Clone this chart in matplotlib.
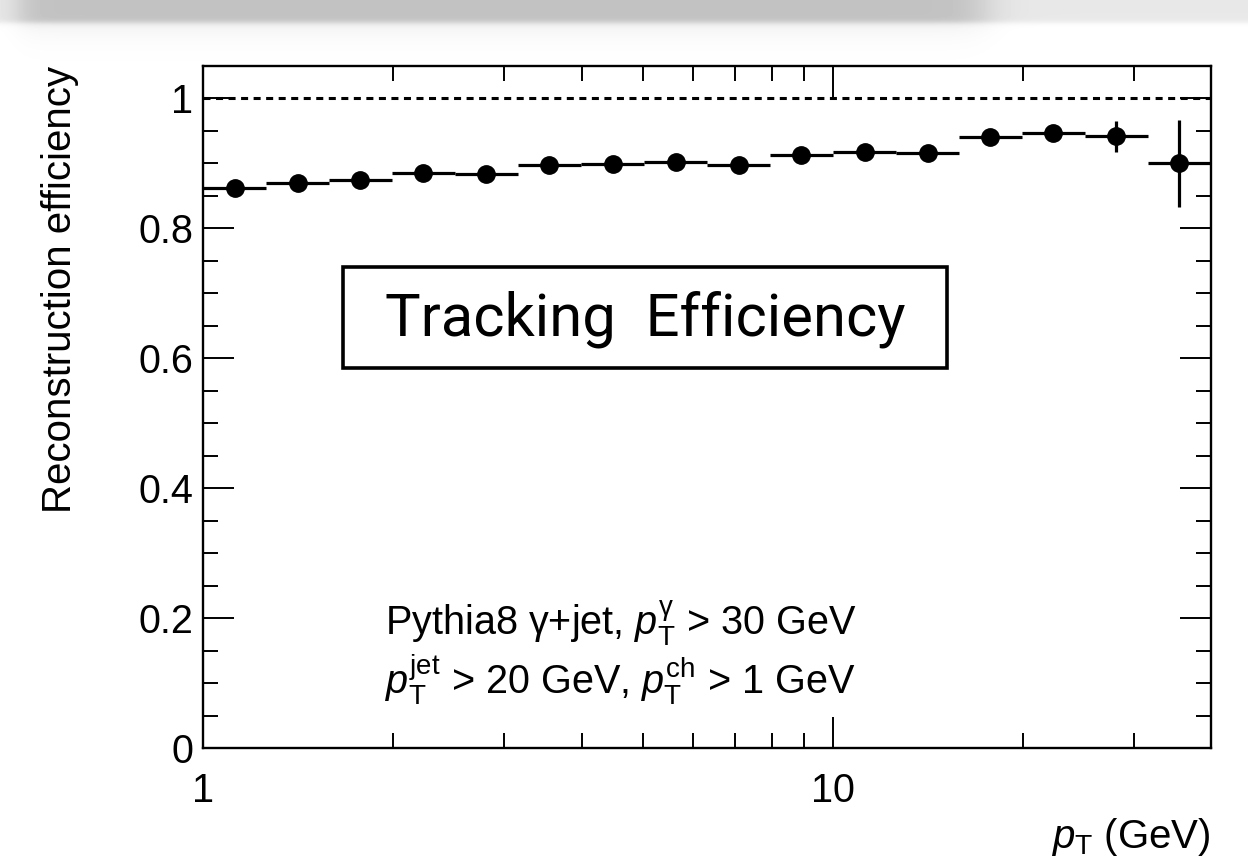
import numpy as np
import matplotlib
matplotlib.use("Agg")
import matplotlib.pyplot as plt
from matplotlib.patches import Rectangle
from matplotlib.ticker import FixedLocator, NullFormatter, FixedFormatter

plt.rcParams["font.family"] = ["Liberation Sans", "DejaVu Sans"]
plt.rcParams["mathtext.fontset"] = "custom"
plt.rcParams["mathtext.rm"] = "Liberation Sans"
plt.rcParams["mathtext.it"] = "Liberation Sans:italic"
plt.rcParams["mathtext.bf"] = "Liberation Sans:bold"

# track pT bins (GeV), 10 bins per decade
bin_edges = [1.0, 1.259, 1.585, 1.995, 2.512, 3.162, 3.981, 5.012, 6.310, 7.943,
             10.0, 12.59, 15.85, 19.95, 25.12, 31.62, 39.81]
efficiency = [0.862, 0.870, 0.875, 0.885, 0.884, 0.898, 0.899, 0.902, 0.898,
              0.913, 0.918, 0.916, 0.941, 0.947, 0.942, 0.900]
eff_err = [0.003, 0.003, 0.003, 0.003, 0.004, 0.004, 0.004, 0.005, 0.005,
           0.006, 0.007, 0.008, 0.010, 0.010, 0.024, 0.067]

y_major = [0, 0.2, 0.4, 0.6, 0.8, 1.0]
y_major_labels = ["0", "0.2", "0.4", "0.6", "0.8", "1"]
x_major = [1, 10]
x_minor = [2, 3, 4, 5, 6, 7, 8, 9, 20, 30]

edges = np.array(bin_edges)
lo, hi = edges[:-1], edges[1:]
centers = np.sqrt(lo * hi)
xerr = np.vstack([centers - lo, hi - centers])

fig = plt.figure(figsize=(12.48, 8.64), dpi=100)

# screenshot strip at the very top (window chrome shadow)
band = fig.add_axes([0, 1 - 70 / 864, 1, 70 / 864])
W, H = 1248, 70
xx, yy = np.meshgrid(np.arange(W), np.arange(H))
dark = 1 / (1 + np.exp((xx - 985) / 12.0))          # dark part ends near x~985
left = 1 / (1 + np.exp(-(xx - 18) / 8.0))            # soft left edge
top_band = 1 / (1 + np.exp((yy - 22) / 1.5))         # the grey bar itself
shadow = np.exp(-np.clip(yy - 22, 0, None) / 14.0) * (1 - top_band)
val = 1.0 - top_band * (0.09 + 0.15 * dark * left) - shadow * 0.06 * dark * left
band.imshow(val, cmap="gray", vmin=0, vmax=1, aspect="auto", interpolation="bilinear")
band.axis("off")

ax = fig.add_axes([203 / 1248, 1 - 748 / 864, 1008 / 1248, 682 / 864])
ax.set_zorder(2)
ax.set_xscale("log")
ax.set_xlim(bin_edges[0], bin_edges[-1])
ax.set_ylim(0, 1.05)

ax.axhline(1.0, color="black", lw=2.2, ls=(0, (2.3, 1.8)), zorder=1)

ax.errorbar(centers, efficiency, xerr=xerr, yerr=eff_err, fmt="o", color="black",
            ms=12.5, elinewidth=2.3, capsize=0, zorder=3)

ax.xaxis.set_major_locator(FixedLocator(x_major))
ax.xaxis.set_major_formatter(FixedFormatter(["1", "10"]))
ax.xaxis.set_minor_locator(FixedLocator(x_minor))
ax.xaxis.set_minor_formatter(NullFormatter())
ax.yaxis.set_major_locator(FixedLocator(y_major))
ax.yaxis.set_major_formatter(FixedFormatter(y_major_labels))
ax.yaxis.set_minor_locator(FixedLocator(np.arange(0.05, 1.05, 0.05)))

ax.tick_params(which="both", direction="in", top=True, right=True, width=1.4)
ax.tick_params(which="major", length=22)
ax.tick_params(which="minor", length=11)
ax.tick_params(axis="x", which="major", pad=17, labelsize=28.5)
ax.tick_params(axis="y", which="major", pad=7, labelsize=28.5)
for s in ax.spines.values():
    s.set_linewidth(1.7)

ax.text(-0.142, 1.0, "Reconstruction efficiency", transform=ax.transAxes,
        rotation=90, ha="center", va="top", fontsize=29)
ax.text(1.0, -0.147, r"$p_{\mathrm{T}}$ (GeV)", transform=ax.transAxes,
        ha="right", va="baseline", fontsize=29)

# boxed title
ax.add_patch(Rectangle((0.139, 0.557), 0.599, 0.148, transform=ax.transAxes,
                       fill=False, lw=2.6, ec="black", zorder=4))
ax.text(0.4385, 0.628, "Tracking  Efficiency", transform=ax.transAxes,
        ha="center", va="center", fontsize=43, zorder=4,
        family=["Roboto", "DejaVu Sans"])

ax.text(0.181, 0.166, "Pythia8 γ+jet, $p_{\\mathrm{T}}^{\\mathrm{γ}}$ > 30 GeV",
        transform=ax.transAxes, ha="left", va="baseline", fontsize=28.5)
ax.text(0.181, 0.079, "$p_{\\mathrm{T}}^{\\mathrm{jet}}$ > 20 GeV, $p_{\\mathrm{T}}^{\\mathrm{ch}}$ > 1 GeV",
        transform=ax.transAxes, ha="left", va="baseline", fontsize=28.5)

fig.savefig("out.png", dpi=100)
